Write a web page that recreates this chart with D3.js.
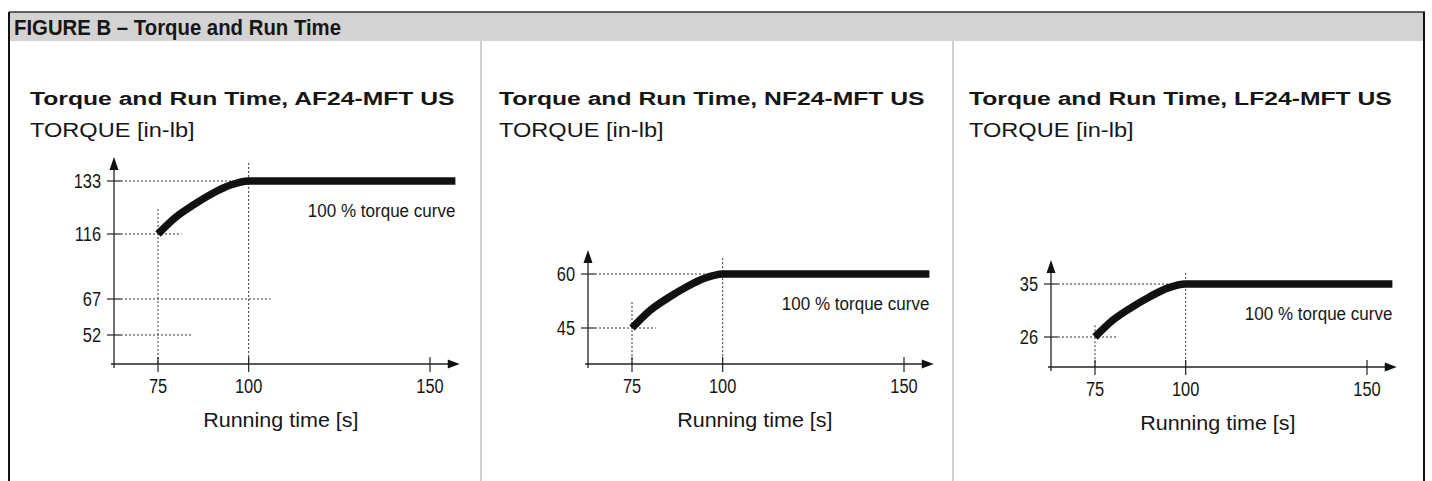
<!DOCTYPE html>
<html>
<head>
<meta charset="utf-8">
<script src="https://cdn.jsdelivr.net/npm/d3@7"></script>
<style>
  body { margin: 0; background: #fff; }
  svg { display: block; }
</style>
</head>
<body>
<div id="chart"></div>
<script>
/* Torque and run time figure: three small schematic charts side by side.
   - data arrays
   - layout numbers
   - frame + header
   - one panel per actuator
*/

// ---- data ----
var figureTitle = "FIGURE B \u2013 Torque and Run Time";
var panelNames = ["AF24-MFT US", "NF24-MFT US", "LF24-MFT US"];
var timeTicks = [75, 100, 150];
var curveTimes = [75, 80, 85, 90, 95, 100, 157];
var torqueAF = [116, 121.5, 125.5, 129, 131.7, 133, 133];
var torqueNF = [45, 49.9, 53.4, 56.4, 58.8, 60, 60];
var torqueLF = [26, 28.9, 31.0, 32.8, 34.3, 35, 35];
var torqueTicksAF = [52, 67, 116, 133];
var torqueTicksNF = [45, 60];
var torqueTicksLF = [26, 35];
// dotted horizontal guides: [torque, time where the dots stop]
var hGuidesAF = [[133, 100], [116, 81.5], [67, 106], [52, 84.5]];
var hGuidesNF = [[60, 100], [45, 81.5]];
var hGuidesLF = [[35, 100], [26, 81.3]];
// dotted vertical guides: [time, torque where the dots start]
var vGuidesAF = [[75, 124], [100, 138.8]];
var vGuidesNF = [[75, 52.2], [100, 64.4]];
var vGuidesLF = [[75, 28], [100, 36.9]];
var curveNote = "100 % torque curve";
var yLabel = "TORQUE [in-lb]";
var xLabel = "Running time [s]";

// ---- layout ----
var width = 1432, height = 481;
var frameLeft = 9, frameRight = 1424, frameTop = 12, headerBottom = 41;
var dividers = [481, 953];
var titleX = [30, 499, 969];
var originX = [114, 588, 1051];   // where the torque axis sits
var originY = [364, 364, 367];    // where the time axis sits
var tickLift = [[29, 65, 130, 183], [36, 90], [30, 83]]; // px above time axis, one per torque tick
var secondsPx = 272 / 75;          // px per second on the time axis

var sans = "'Liberation Sans', Arial, Helvetica, sans-serif";
var ink = "#161616";

var panels = [
  { name: panelNames[0], torque: torqueAF, ticks: torqueTicksAF, h: hGuidesAF, v: vGuidesAF },
  { name: panelNames[1], torque: torqueNF, ticks: torqueTicksNF, h: hGuidesNF, v: vGuidesNF },
  { name: panelNames[2], torque: torqueLF, ticks: torqueTicksLF, h: hGuidesLF, v: vGuidesLF }
];

var svg = d3.select("#chart").append("svg")
    .attr("width", width)
    .attr("height", height);

// text squeezed or stretched sideways; the source mixes condensed and wide lettering
function stretchedText(g, txt, x, y, size, sx, weight, anchor) {
  return g.append("text")
      .attr("transform", "translate(" + x + "," + y + ") scale(" + sx + ",1)")
      .style("font-family", sans)
      .style("font-size", size + "px")
      .style("font-weight", weight || "normal")
      .style("text-anchor", anchor || "start")
      .style("fill", ink)
      .text(txt);
}

//frame and grey header bar
svg.append("rect")
    .attr("x", frameLeft).attr("y", frameTop)
    .attr("width", frameRight - frameLeft).attr("height", headerBottom - frameTop)
    .style("fill", "#d3d3d3");
svg.append("line")
    .attr("x1", frameLeft).attr("x2", frameRight + 1)
    .attr("y1", frameTop).attr("y2", frameTop)
    .style("stroke", "#333").style("stroke-width", 1.5);
[frameLeft, frameRight].forEach(function(x) {
  svg.append("line")
      .attr("x1", x).attr("x2", x)
      .attr("y1", frameTop).attr("y2", height)
      .style("stroke", "#111").style("stroke-width", 2);
});
dividers.forEach(function(x) {
  svg.append("line")
      .attr("x1", x).attr("x2", x)
      .attr("y1", headerBottom).attr("y2", height)
      .style("stroke", "#cfcfcf").style("stroke-width", 2);
});
stretchedText(svg, figureTitle, 14, 35, 23, 0.885, "bold");

panels.forEach(function(p, i) {
  var g = svg.append("g");
  var ox = originX[i], oy = originY[i];

  var x = d3.scaleLinear()
      .domain([75, 150])
      .range([ox + 44, ox + 44 + 75 * secondsPx]);

  // schematic torque axis: tick spacing is not to scale
  var y = d3.scaleLinear()
      .domain(p.ticks)
      .range(tickLift[i].map(function(d) { return oy - d; }));

  var topTick = d3.max(p.ticks);
  var yTip = y(topTick) - 24;
  var xTip = x(158.2);

  stretchedText(g, "Torque and Run Time, " + p.name, titleX[i], 105, 19, 1.3, "bold");
  stretchedText(g, yLabel, titleX[i], 137, 19.5, 1.21);

  // dotted guides
  var dotted = function(sel) {
    return sel.style("stroke", "#333").style("stroke-width", 1).style("stroke-dasharray", "2,2");
  };
  g.selectAll(".hguide").data(p.h).enter().append("line")
      .attr("class", "hguide")
      .attr("x1", ox + 7).attr("x2", function(d) { return x(d[1]); })
      .attr("y1", function(d) { return y(d[0]); })
      .attr("y2", function(d) { return y(d[0]); })
      .call(dotted);
  g.selectAll(".vguide").data(p.v).enter().append("line")
      .attr("class", "vguide")
      .attr("x1", function(d) { return x(d[0]); })
      .attr("x2", function(d) { return x(d[0]); })
      .attr("y1", function(d) { return y(d[1]); })
      .attr("y2", oy)
      .call(dotted);

  // axes
  g.append("line")
      .attr("x1", ox).attr("x2", ox)
      .attr("y1", oy + 4).attr("y2", yTip + 10)
      .style("stroke", "#222").style("stroke-width", 1.3);
  g.append("path")
      .attr("d", "M" + ox + "," + yTip + "L" + (ox - 4.5) + "," + (yTip + 13) + "L" + (ox + 4.5) + "," + (yTip + 13) + "Z")
      .style("fill", "#111");
  g.append("line")
      .attr("x1", ox - 3).attr("x2", xTip - 8)
      .attr("y1", oy).attr("y2", oy)
      .style("stroke", "#222").style("stroke-width", 1.3);
  g.append("path")
      .attr("d", "M" + xTip + "," + oy + "L" + (xTip - 12) + "," + (oy - 4.5) + "L" + (xTip - 12) + "," + (oy + 4.5) + "Z")
      .style("fill", "#111");

  // ticks and labels
  g.selectAll(".ytick").data(p.ticks).enter().append("line")
      .attr("class", "ytick")
      .attr("x1", ox - 7).attr("x2", ox + 7)
      .attr("y1", function(d) { return y(d); })
      .attr("y2", function(d) { return y(d); })
      .style("stroke", "#222").style("stroke-width", 1.2);
  p.ticks.forEach(function(d) {
    stretchedText(g, d, ox - 13, y(d) + 7, 20.5, 0.8, "normal", "end");
  });
  g.selectAll(".xtick").data(timeTicks).enter().append("line")
      .attr("class", "xtick")
      .attr("x1", function(d) { return x(d); })
      .attr("x2", function(d) { return x(d); })
      .attr("y1", oy - 7).attr("y2", oy + 8)
      .style("stroke", "#222").style("stroke-width", 1.2);
  timeTicks.forEach(function(d) {
    stretchedText(g, d, x(d), oy + 29, 20.5, 0.8, "normal", "middle");
  });

  stretchedText(g, xLabel, (ox + xTip) / 2 - 6, oy + 63, 20.5, 1.05, "normal", "middle");

  // the torque curve
  var line = d3.line()
      .x(function(d) { return x(d[0]); })
      .y(function(d) { return y(d[1]); })
      .curve(d3.curveMonotoneX);
  g.append("path")
      .datum(d3.zip(curveTimes, p.torque))
      .attr("d", line)
      .style("fill", "none")
      .style("stroke", "#111")
      .style("stroke-width", 7.5)
      .style("stroke-linecap", "butt")
      .style("stroke-linejoin", "round");

  stretchedText(g, curveNote, x(d3.max(curveTimes)), y(topTick) + 36, 18.5, 0.92, "normal", "end");
});
</script>
</body>
</html>
